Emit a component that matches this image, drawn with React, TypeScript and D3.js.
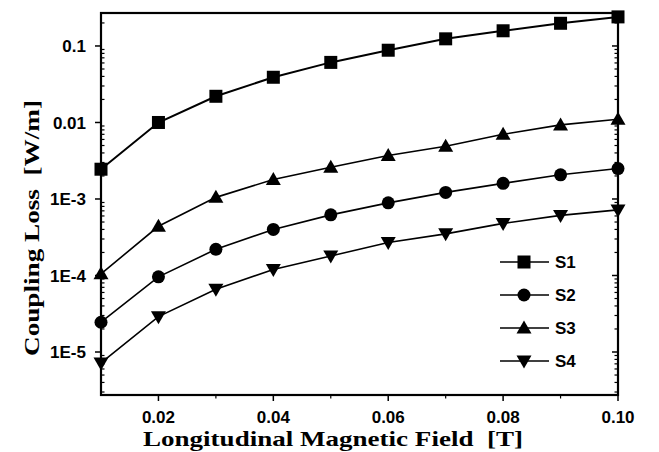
import React from "react";
import * as d3 from "d3";

const fieldT = [0.01, 0.02, 0.03, 0.04, 0.05, 0.06, 0.07, 0.08, 0.09, 0.1];
const s1 = [2.45e-3, 1.0e-2, 0.022, 0.039, 0.061, 0.088, 0.124, 0.158, 0.198, 0.24];
const s2 = [2.45e-5, 9.6e-5, 2.2e-4, 4.0e-4, 6.2e-4, 8.9e-4, 1.22e-3, 1.6e-3, 2.07e-3, 2.5e-3];
const s3 = [1.05e-4, 4.4e-4, 1.05e-3, 1.8e-3, 2.6e-3, 3.7e-3, 4.9e-3, 7.0e-3, 9.3e-3, 0.011];
const s4 = [7.2e-6, 2.9e-5, 6.6e-5, 1.2e-4, 1.8e-4, 2.7e-4, 3.5e-4, 4.8e-4, 6.1e-4, 7.2e-4];
const seriesNames = ["S1", "S2", "S3", "S4"];
const seriesShapes = ["square", "circle", "triangle", "triangleDown"];
const xTickValues = [0.02, 0.04, 0.06, 0.08, 0.1];
const xTickLabels = ["0.02", "0.04", "0.06", "0.08", "0.10"];
const yTickValues = [1e-5, 1e-4, 1e-3, 1e-2, 1e-1];
const yTickLabels = ["1E-5", "1E-4", "1E-3", "0.01", "0.1"];

const W = 659, H = 452;
const L = 101, R = 618, T = 13, B = 395;

function Marker({ shape, x, y }: { shape: string; x: number; y: number }) {
  if (shape === "square") return <rect x={x - 6.5} y={y - 6.5} width={13} height={13} fill="#000" />;
  if (shape === "circle") return <circle cx={x} cy={y} r={6.5} fill="#000" />;
  if (shape === "triangle")
    return <path d={`M${x},${y - 7.5}L${x + 7.5},${y + 5.5}L${x - 7.5},${y + 5.5}Z`} fill="#000" />;
  return <path d={`M${x},${y + 7.5}L${x + 7.5},${y - 5.5}L${x - 7.5},${y - 5.5}Z`} fill="#000" />;
}

export default function App() {
  const x = d3.scaleLinear().domain([0.01, 0.1]).range([L, R]);
  const y = d3.scaleLog().domain([Math.pow(10, -5.562), Math.pow(10, -0.569)]).range([B, T]);
  const data = [s1, s2, s3, s4];
  const line = d3.line<number>().x((_, i) => x(fieldT[i])).y((d) => y(d));

  const minorY: number[] = [];
  for (let e = -6; e <= -1; e++) {
    for (let m = 2; m <= 9; m++) {
      const v = m * Math.pow(10, e);
      if (v >= y.domain()[0] && v <= y.domain()[1]) minorY.push(v);
    }
  }
  const minorX = [0.03, 0.05, 0.07, 0.09];
  const legendY = [262, 295, 328, 361];

  const tickFont = "'Liberation Sans', Arial, sans-serif";
  const titleFont = "'Liberation Serif', 'Times New Roman', serif";

  return (
    <svg width={W} height={H} style={{ position: "absolute", left: 0, top: 0, background: "#fff" }}>
      <rect x={0} y={0} width={W} height={H} fill="#fff" />
      {data.map((d, si) => (
        <g key={si}>
          <path d={line(d) || ""} fill="none" stroke="#000" strokeWidth={si === 0 ? 2 : 1.6} />
          {d.map((v, i) => (
            <Marker key={i} shape={seriesShapes[si]} x={x(fieldT[i])} y={y(v)} />
          ))}
        </g>
      ))}
      <rect x={L} y={T} width={R - L} height={B - T} fill="none" stroke="#000" strokeWidth={2.2} />
      {yTickValues.map((v, i) => (
        <g key={i}>
          <line x1={L - 6} x2={L} y1={y(v)} y2={y(v)} stroke="#000" strokeWidth={1.5} />
          <line x1={R - 6} x2={R} y1={y(v)} y2={y(v)} stroke="#000" strokeWidth={1.5} />
          <text x={L - 15} y={y(v)} dy="0.36em" textAnchor="end" fontFamily={tickFont} fontWeight="bold" fontSize={17}>
            {yTickLabels[i]}
          </text>
        </g>
      ))}
      {minorY.map((v, i) => (
        <g key={i}>
          <line x1={L} x2={L + 3.5} y1={y(v)} y2={y(v)} stroke="#000" strokeWidth={1.2} />
          <line x1={R - 3.5} x2={R} y1={y(v)} y2={y(v)} stroke="#000" strokeWidth={1.2} />
        </g>
      ))}
      {xTickValues.map((v, i) => (
        <g key={i}>
          <line x1={x(v)} x2={x(v)} y1={B} y2={B + 6} stroke="#000" strokeWidth={1.5} />
          <text x={x(v)} y={B + 28} textAnchor="middle" fontFamily={tickFont} fontWeight="bold" fontSize={17}>
            {xTickLabels[i]}
          </text>
        </g>
      ))}
      {minorX.map((v, i) => (
        <line key={i} x1={x(v)} x2={x(v)} y1={B} y2={B + 3.5} stroke="#000" strokeWidth={1.2} />
      ))}
      <text
        x={143}
        y={446}
        textLength={380}
        lengthAdjust="spacingAndGlyphs"
        fontFamily={titleFont}
        fontWeight="bold"
        fontSize={22}
        xmlSpace="preserve"
      >
        {"Longitudinal Magnetic Field  [T]"}
      </text>
      <text
        transform={`translate(39,356) rotate(-90)`}
        textLength={256}
        lengthAdjust="spacingAndGlyphs"
        fontFamily={titleFont}
        fontWeight="bold"
        fontSize={22}
        xmlSpace="preserve"
      >
        {"Coupling Loss  [W/m]"}
      </text>
      {seriesNames.map((n, i) => (
        <g key={i}>
          <line x1={500} x2={549} y1={legendY[i]} y2={legendY[i]} stroke="#000" strokeWidth={1.6} />
          <Marker shape={seriesShapes[i]} x={524} y={legendY[i]} />
          <text x={555} y={legendY[i]} dy="0.36em" fontFamily={tickFont} fontWeight="bold" fontSize={17}>
            {n}
          </text>
        </g>
      ))}
    </svg>
  );
}
